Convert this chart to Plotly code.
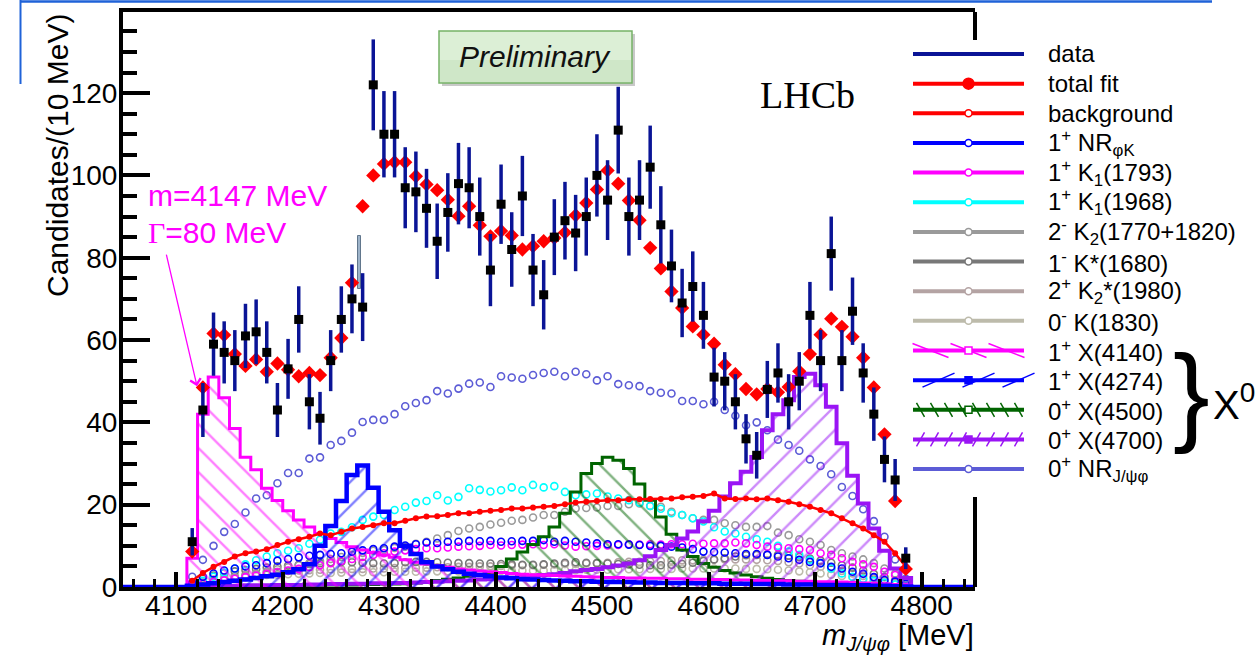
import numpy as np
import plotly.graph_objects as go

# ---------------- data ----------------
BIN_LO = 4110          # MeV, lower edge of the first bin
BIN_W = 10             # MeV per bin
X_MIN, X_MAX = 4050, 4850
Y_MAX = 139.7

data_counts = [11, 43, 59, 57, 55, 61, 62, 57, 43, 53,
               65, 45, 41, 55, 65, 70, 68, 122, 110, 110,
               97, 96, 92, 84, 91, 98, 97, 90, 77, 93,
               82, 95, 77, 71, 85, 89, 86, 90, 100, 94,
               111, 90, 94, 102, 88, 78, 69, 73, 66, 51,
               50, 45, 36, 32, 48, 52, 45, 50, 66, 55,
               81, 55, 67, 52, 42, 31, 26, 7]

total_fit = [8.6, 48.5, 61.6, 61.2, 56.6, 53.7, 55.3, 52.3, 54.3, 52.8,
             51.2, 52.0, 51.5, 55.7, 60.5, 73.9, 92.5, 100.0, 102.8, 103.2,
             103.2, 99.8, 97.8, 96.4, 94.1, 90.1, 92.5, 87.9, 85.2, 86.5,
             85.4, 82.0, 82.8, 84.0, 84.8, 86.1, 90.3, 93.3, 96.6, 101.2,
             98.0, 93.9, 89.1, 82.4, 77.4, 71.8, 67.8, 63.3, 61.3, 59.1,
             54.0, 51.7, 48.1, 46.8, 48.1, 47.3, 48.6, 52.4, 56.6, 61.3,
             65.2, 63.2, 60.8, 55.7, 48.5, 37.1, 20.9, 4.4]

background = [1.5, 3.4, 4.9, 6.1, 7.4, 8.2, 8.6, 9.2, 10.2, 11.0,
              11.6, 12.2, 13.0, 12.6, 13.4, 14.2, 14.6, 15.0, 15.5, 15.5,
              16.1, 16.7, 17.1, 17.2, 17.5, 17.9, 17.9, 18.3, 18.5, 18.7,
              19.1, 19.1, 19.3, 19.5, 19.7, 20.1, 20.5, 20.7, 20.9, 21.1,
              21.1, 21.3, 21.3, 21.4, 21.4, 21.5, 21.8, 21.9, 22.1, 22.7,
              21.5, 21.4, 21.5, 21.3, 21.5, 21.1, 20.7, 20.1, 19.5, 18.7,
              17.9, 16.7, 15.5, 14.2, 12.6, 11.0, 8.2, 4.9]

nr_phik = [1.0, 2.5, 3.3, 4.0, 4.5, 5.0, 5.3, 5.8, 6.4, 6.8,
           7.2, 7.6, 7.8, 8.0, 8.2, 8.6, 8.9, 9.2, 9.4, 9.8,
           10.1, 10.4, 10.8, 10.7, 11.0, 11.0, 11.2, 11.1, 11.2, 11.0,
           11.1, 11.2, 11.2, 11.4, 11.0, 11.2, 11.0, 10.8, 10.6, 10.4,
           10.4, 10.3, 10.2, 10.0, 10.0, 9.8, 9.6, 9.2, 8.6, 8.5,
           8.4, 8.2, 8.0, 8.0, 7.8, 7.4, 7.0, 6.6, 6.1, 5.8,
           4.9, 4.5, 3.7, 3.2, 2.4, 1.7, 1.3, 0.8]

k1_1793 = [0.3, 0.8, 1.2, 1.6, 2.0, 2.4, 2.8, 3.2, 3.6, 4.0,
           4.4, 4.8, 5.3, 5.8, 6.3, 6.8, 7.3, 7.8, 8.2, 8.6,
           8.9, 9.2, 9.4, 9.4, 9.6, 9.8, 9.9, 10.0, 10.2, 10.1,
           10.2, 10.3, 10.4, 10.2, 10.4, 10.1, 9.8, 9.9, 10.0, 10.1,
           10.2, 10.4, 10.3, 10.4, 10.3, 10.4, 10.4, 10.5, 10.5, 10.6,
           10.6, 10.8, 10.6, 10.2, 9.8, 9.6, 9.4, 9.2, 9.0, 8.2,
           7.8, 7.0, 6.1, 5.5, 4.9, 3.7, 2.9, 1.7]

k1_1968 = [0.5, 1.5, 2.5, 3.5, 4.5, 5.5, 6.5, 7.4, 8.2, 8.8,
           9.4, 10.5, 11.5, 13.0, 13.4, 14.5, 16.3, 17.1, 17.5, 18.7,
           19.5, 20.5, 20.9, 22.3, 21.0, 21.9, 24.0, 23.6, 23.2, 23.5,
           24.2, 23.5, 24.8, 24.2, 24.5, 23.1, 22.3, 22.5, 22.7, 22.0,
           21.5, 21.1, 20.5, 19.7, 19.0, 17.9, 17.5, 16.7, 15.9, 14.5,
           13.5, 13.0, 12.2, 11.6, 11.0, 10.0, 8.6, 7.8, 6.6, 5.8,
           4.5, 3.3, 2.5, 2.0, 1.5, 1.0, 0.6, 0.3]

k2_1770 = [0.3, 0.8, 1.3, 1.8, 2.3, 2.8, 3.3, 3.8, 4.3, 4.8,
           5.3, 5.8, 6.3, 6.8, 7.3, 7.8, 8.3, 8.8, 9.0, 9.5,
           9.8, 10.5, 11.0, 11.8, 12.6, 13.6, 14.2, 14.6, 15.2, 15.6,
           16.1, 16.3, 16.9, 17.5, 17.5, 18.3, 19.1, 19.2, 19.3, 19.7,
           19.7, 20.1, 20.3, 19.7, 19.5, 18.3, 17.5, 16.7, 16.3, 16.3,
           15.5, 15.0, 14.6, 14.6, 14.8, 13.2, 12.6, 11.6, 11.0, 10.2,
           9.0, 8.2, 7.4, 6.7, 5.8, 4.5, 3.3, 1.7]

kstar_1680 = [1.0, 2.0, 2.8, 3.4, 3.8, 4.1, 4.4, 4.7, 5.0, 5.2,
              5.4, 5.6, 5.8, 6.0, 6.1, 6.0, 5.9, 5.8, 5.7, 5.8,
              6.0, 6.1, 6.1, 6.0, 5.9, 5.8, 5.8, 5.7, 5.7, 5.6,
              5.5, 5.4, 5.4, 5.5, 5.7, 5.9, 6.0, 5.9, 5.8, 5.7,
              5.6, 5.5, 5.4, 5.3, 5.3, 5.4, 5.6, 5.9, 6.3, 6.7,
              7.0, 7.4, 7.7, 7.8, 7.9, 7.8, 7.6, 7.3, 6.9, 6.4,
              5.9, 5.3, 4.7, 4.0, 3.2, 2.4, 1.6, 0.8]

k2star_1980 = [0.5, 1.2, 1.8, 2.3, 2.7, 3.0, 3.3, 3.5, 3.7, 3.9,
               4.0, 4.1, 4.2, 4.3, 4.3, 4.4, 4.4, 4.5, 4.5, 4.6,
               4.6, 4.7, 4.7, 4.8, 4.8, 4.9, 4.9, 5.0, 5.0, 5.1,
               5.2, 5.3, 5.3, 5.4, 5.5, 5.6, 5.6, 5.7, 5.8, 5.9,
               6.0, 6.1, 6.1, 6.2, 6.3, 6.4, 6.5, 6.5, 6.6, 6.6,
               6.7, 6.7, 6.7, 6.6, 6.5, 6.3, 6.0, 5.7, 5.3, 4.9,
               4.4, 3.9, 3.3, 2.7, 2.1, 1.5, 0.9, 0.4]

k_1830 = [0.4, 1.0, 1.5, 1.9, 2.2, 2.5, 2.7, 2.9, 3.0, 3.1,
          3.2, 3.3, 3.4, 3.4, 3.5, 3.5, 3.6, 3.6, 3.6, 3.7,
          3.7, 3.7, 3.8, 3.8, 3.8, 3.8, 3.9, 3.9, 3.9, 3.9,
          4.0, 4.0, 4.0, 4.0, 4.1, 4.1, 4.1, 4.2, 4.2, 4.2,
          4.3, 4.3, 4.3, 4.4, 4.4, 4.4, 4.5, 4.5, 4.5, 4.5,
          4.5, 4.5, 4.4, 4.4, 4.3, 4.2, 4.0, 3.8, 3.6, 3.3,
          3.0, 2.7, 2.3, 1.9, 1.5, 1.1, 0.7, 0.3]

nr_jpsiphi = [2.5, 6.6, 10.0, 13.4, 15.3, 18.1, 21.5, 22.3, 25.2, 27.7,
              27.7, 31.2, 31.5, 34.5, 35.5, 37.5, 40.1, 40.6, 40.6, 42.0,
              43.9, 44.7, 45.4, 47.6, 47.0, 48.2, 49.4, 49.7, 48.6, 51.2,
              50.9, 50.6, 51.5, 52.0, 52.3, 51.2, 52.3, 51.7, 50.2, 51.2,
              49.3, 49.0, 48.8, 47.6, 47.2, 47.0, 45.2, 45.2, 44.4, 45.0,
              43.0, 41.6, 39.3, 40.0, 38.1, 35.8, 34.5, 33.1, 31.0, 29.4,
              27.4, 24.3, 22.1, 18.9, 16.0, 12.2, 6.7, 2.0]

x4140 = [7.0, 42.0, 51.0, 46.0, 38.5, 31.5, 28.5, 24.0, 21.0, 18.5,
         16.3, 14.6, 13.0, 11.8, 10.8, 9.8, 9.0, 8.4, 7.8, 7.2,
         6.6, 6.0, 5.6, 5.2, 4.8, 4.4, 4.1, 3.9, 3.7, 3.5,
         3.3, 3.1, 3.0, 2.9, 2.8, 2.7, 2.6, 2.5, 2.4, 2.3,
         2.3, 2.2, 2.2, 2.1, 2.1, 2.0, 2.0, 1.9, 1.9, 1.8,
         1.8, 1.7, 1.7, 1.6, 1.6, 1.5, 1.5, 1.4, 1.4, 1.3,
         1.3, 1.2, 1.1, 1.0, 0.9, 0.8, 0.6, 0.4]

x4274 = [0.3, 0.6, 0.9, 1.2, 1.5, 1.8, 2.2, 2.6, 3.0, 3.6,
         4.3, 5.5, 10.0, 14.8, 20.9, 27.2, 29.5, 24.1, 18.3, 13.8,
         10.0, 8.0, 6.0, 5.0, 4.3, 3.7, 3.2, 2.9, 2.6, 2.3,
         2.1, 1.9, 1.8, 1.7, 1.6, 1.5, 1.4, 1.4, 1.3, 1.3,
         1.2, 1.2, 1.1, 1.1, 1.0, 1.0, 1.0, 0.9, 0.9, 0.9,
         0.8, 0.8, 0.8, 0.7, 0.7, 0.7, 0.6, 0.6, 0.6, 0.5,
         0.5, 0.5, 0.4, 0.4, 0.3, 0.3, 0.2, 0.1]

x4500 = [0.1, 0.1, 0.1, 0.2, 0.2, 0.2, 0.2, 0.3, 0.3, 0.3,
         0.4, 0.4, 0.4, 0.5, 0.5, 0.5, 0.6, 0.6, 0.7, 0.7,
         0.8, 1.0, 1.3, 1.6, 1.9, 2.2, 2.6, 3.0, 3.5, 5.0,
         6.8, 8.5, 10.3, 12.2, 14.6, 17.9, 23.1, 27.6, 30.0, 31.5,
         30.8, 28.8, 25.0, 21.1, 17.0, 12.8, 9.0, 7.4, 5.7, 4.8,
         4.0, 3.4, 2.9, 2.5, 2.1, 1.8, 1.6, 1.4, 1.2, 1.0,
         0.9, 0.8, 0.7, 0.6, 0.5, 0.4, 0.3, 0.2]

x4700 = [0.2, 0.2, 0.3, 0.3, 0.3, 0.4, 0.4, 0.4, 0.5, 0.5,
         0.5, 0.6, 0.6, 0.7, 0.7, 0.8, 0.8, 0.9, 0.9, 1.0,
         1.0, 1.1, 1.2, 1.3, 1.4, 1.5, 1.6, 1.8, 1.9, 2.1,
         2.3, 2.5, 2.7, 2.9, 3.1, 3.4, 3.8, 4.1, 4.4, 4.8,
         5.2, 5.7, 6.5, 7.5, 9.0, 10.2, 11.8, 13.5, 16.0, 18.5,
         22.0, 25.2, 28.0, 31.6, 38.1, 42.0, 45.4, 51.0, 51.8, 49.0,
         43.8, 34.9, 27.0, 20.3, 14.2, 8.8, 4.5, 2.2]

# a stray grey bar visible in the reference near 4272 MeV
stray_x = [4272]
stray_lo = [72.3]
stray_hi = [85.4]

# ---------------- figure geometry ----------------
W, H = 1257, 655
ML, MR, MT, MB = 123, 282, 12, 68
PW, PH = W - ML - MR, H - MT - MB


def px(x):
    return (x - ML) / PW


def py(y):
    return (H - MB - y) / PH


n_bins = len(data_counts)
centers = BIN_LO + BIN_W * (np.arange(n_bins) + 0.5)
edges = BIN_LO + BIN_W * np.arange(n_bins + 1)

FONT = "Liberation Sans, Arial, Helvetica, sans-serif"
SERIF = "Liberation Serif, Times New Roman, serif"

C_DATA = "#0a1496"
C_RED = "#ff0000"
C_BLUE = "#0000ff"
C_MAG = "#ff00ff"
C_CYAN = "#00ffff"
C_GREY2 = "#9a9a9a"
C_GREY1 = "#787878"
C_TAUPE = "#b4a3a3"
C_BEIGE = "#bdbbab"
C_GREEN = "#006400"
C_PURPLE = "#9a14f5"
C_SLATE = "#5c5cd6"

fig = go.Figure()

# component curves (open circles)
curves = [
    (k2star_1980, C_TAUPE),
    (k_1830, C_BEIGE),
    (kstar_1680, C_GREY1),
    (k2_1770, C_GREY2),
    (k1_1968, C_CYAN),
    (k1_1793, C_MAG),
    (nr_phik, C_BLUE),
    (nr_jpsiphi, C_SLATE),
]
for vals, col in curves:
    fig.add_trace(go.Scatter(
        x=centers, y=vals, mode="markers", showlegend=False,
        marker=dict(symbol="circle-open", size=7, color=col, line=dict(width=1.6, color=col)),
        hoverinfo="skip"))


def hist_trace(vals, col, pattern, lw):
    xs = [X_MIN] + list(edges[:-1]) + [edges[-1], X_MAX]
    ys = [0.0] + list(vals) + [0.0, 0.0]
    return go.Scatter(
        x=xs, y=ys, mode="lines", line=dict(shape="hv", color=col, width=lw),
        fill="tozeroy", fillcolor="rgba(0,0,0,0)",
        fillpattern=dict(shape=pattern, fgcolor=col, bgcolor="rgba(0,0,0,0)",
                         size=17, solidity=0.14),
        showlegend=False, hoverinfo="skip")


fig.add_trace(hist_trace(x4500, C_GREEN, "\\", 3))
fig.add_trace(hist_trace(x4700, C_PURPLE, "/", 4))
fig.add_trace(hist_trace(x4140, C_MAG, "\\", 3))
fig.add_trace(hist_trace(x4274, C_BLUE, "/", 4.5))

# background
fig.add_trace(go.Scatter(
    x=centers, y=background, mode="lines+markers", showlegend=False,
    line=dict(color=C_RED, width=2.5),
    marker=dict(symbol="circle", size=6, color=C_RED), hoverinfo="skip"))

# stray bar
fig.add_trace(go.Bar(
    x=stray_x, y=[h - l for h, l in zip(stray_hi, stray_lo)], base=stray_lo, width=[3.5],
    marker=dict(color="#9db3c9", line=dict(color="#61768c", width=1)),
    showlegend=False, hoverinfo="skip"))

# total fit
fig.add_trace(go.Scatter(
    x=centers, y=total_fit, mode="markers", showlegend=False,
    marker=dict(symbol="diamond", size=11, color=C_RED), hoverinfo="skip"))

# data
fig.add_trace(go.Scatter(
    x=centers, y=data_counts, mode="markers", showlegend=False,
    error_y=dict(type="data", array=np.sqrt(np.array(data_counts, dtype=float)),
                 color=C_DATA, thickness=3.5, width=0),
    marker=dict(symbol="square", size=9, color="black"), hoverinfo="skip"))

shapes = []
annotations = []

# right frame segments (legend box covers the middle part)
for ya, yb in [(12, 40), (497, 587)]:
    shapes.append(dict(type="line", xref="paper", yref="paper", x0=1, x1=1,
                       y0=py(ya), y1=py(yb), line=dict(color="black", width=4), layer="above"))

# slide decoration lines
shapes.append(dict(type="line", xref="paper", yref="paper", x0=px(20), x1=px(1212),
                   y0=py(1.5), y1=py(1.5), line=dict(color="#1f62d8", width=2.5)))
shapes.append(dict(type="line", xref="paper", yref="paper", x0=px(20.5), x1=px(20.5),
                   y0=py(0), y1=py(84), line=dict(color="#1f62d8", width=2)))

# Preliminary box
shapes.append(dict(type="rect", xref="paper", yref="paper", x0=px(442), x1=px(635),
                   y0=py(86), y1=py(34), fillcolor="#c9c9c9", line=dict(width=0), layer="above"))
shapes.append(dict(type="rect", xref="paper", yref="paper", x0=px(439), x1=px(632),
                   y0=py(83), y1=py(31), fillcolor="#dcefd6", line=dict(color="#76b267", width=1.5),
                   layer="above"))
shapes.append(dict(type="rect", xref="paper", yref="paper", x0=px(440), x1=px(631),
                   y0=py(82), y1=py(60), fillcolor="#cfe7c8", line=dict(width=0), layer="above"))
annotations.append(dict(x=px(535), y=py(57), xref="paper", yref="paper", showarrow=False,
                        text="<i>Preliminary</i>", font=dict(family=FONT, size=30, color="#111111"),
                        xanchor="center", yanchor="middle"))

# LHCb
annotations.append(dict(x=px(807), y=py(95), xref="paper", yref="paper", showarrow=False,
                        text="LHCb", font=dict(family=SERIF, size=38, color="black"),
                        xanchor="center", yanchor="middle"))

# magenta annotation
annotations.append(dict(x=px(146), y=py(195), xref="paper", yref="paper", showarrow=False,
                        text="m=4147 MeV", font=dict(family=FONT, size=30, color=C_MAG),
                        xanchor="left", yanchor="middle"))
annotations.append(dict(x=px(146), y=py(232), xref="paper", yref="paper", showarrow=False,
                        text="<span style='font-family:Liberation Serif'>Γ</span>=80 MeV",
                        font=dict(family=FONT, size=30, color=C_MAG),
                        xanchor="left", yanchor="middle"))
annotations.append(dict(x=4119.5, y=48.8, xref="x", yref="y", ax=-31, ay=-133,
                        text="", showarrow=True, arrowhead=4, arrowsize=1.6, arrowwidth=1.3,
                        arrowcolor=C_MAG))

# axis titles
annotations.append(dict(x=px(57), y=py(156), xref="paper", yref="paper", showarrow=False,
                        text="Candidates/(10 MeV)", textangle=-90,
                        font=dict(family=FONT, size=30, color="black"),
                        xanchor="center", yanchor="middle"))
annotations.append(dict(x=1.0, y=py(637), xref="paper", yref="paper", showarrow=False,
                        text="<i>m</i><sub><i>J/ψφ</i></sub> [MeV]",
                        font=dict(family=FONT, size=29, color="black"),
                        xanchor="right", yanchor="middle", borderpad=0))

# ---------------- manual legend ----------------
legend_items = [
    ("data", C_DATA, None, None),
    ("total fit", C_RED, ("circle", 5.5, C_RED, C_RED), None),
    ("background", C_RED, ("circle", 3.5, "white", C_RED), None),
    ("1<sup>+</sup> NR<sub>φK</sub>", C_BLUE, ("circle", 3.5, "white", C_BLUE), None),
    ("1<sup>+</sup> K<sub>1</sub>(1793)", C_MAG, ("circle", 3.5, "white", C_MAG), None),
    ("1<sup>+</sup> K<sub>1</sub>(1968)", C_CYAN, ("circle", 3.5, "white", C_CYAN), None),
    ("2<sup>-</sup> K<sub>2</sub>(1770+1820)", C_GREY2, ("circle", 3.5, "white", C_GREY2), None),
    ("1<sup>-</sup> K*(1680)", C_GREY1, ("circle", 3.5, "white", C_GREY1), None),
    ("2<sup>+</sup> K<sub>2</sub>*(1980)", C_TAUPE, ("circle", 3.5, "white", C_TAUPE), None),
    ("0<sup>-</sup> K(1830)", C_BEIGE, ("circle", 3.5, "white", C_BEIGE), None),
    ("1<sup>+</sup> X(4140)", C_MAG, ("rect", 3.5, "white", C_MAG), "shallow_back"),
    ("1<sup>+</sup> X(4274)", C_BLUE, ("rect", 3.5, C_BLUE, C_BLUE), "shallow_fwd"),
    ("0<sup>+</sup> X(4500)", C_GREEN, ("rect", 3.5, "white", C_GREEN), "steep_back"),
    ("0<sup>+</sup> X(4700)", C_PURPLE, ("rect", 3.5, C_PURPLE, C_PURPLE), "steep_fwd"),
    ("0<sup>+</sup> NR<sub>J/ψφ</sub>", C_SLATE, ("circle", 3.5, "white", C_SLATE), None),
]
LEG_X0, LEG_X1, LEG_TX = 913, 1024, 1046
LEG_Y0, LEG_DY = 54, 29.65
LEG_CX = (LEG_X0 + LEG_X1) / 2

hatch_defs = {
    "shallow_back": ([-38, 0, 38], 18, 7),
    "shallow_fwd": ([-30, 10, 50], 16, -7),
    "steep_back": ([-48, -34, -20, -6, 8, 22, 36, 50], 4, 7),
    "steep_fwd": ([-48, -34, -20, -6, 8, 22, 36, 50], 4, -7),
}

for i, (label, col, mk, hatch) in enumerate(legend_items):
    yy = LEG_Y0 + i * LEG_DY
    shapes.append(dict(type="line", xref="paper", yref="paper", x0=px(LEG_X0), x1=px(LEG_X1),
                       y0=py(yy), y1=py(yy), line=dict(color=col, width=4), layer="above"))
    if hatch:
        offs, dx, dy = hatch_defs[hatch]
        for o in offs:
            shapes.append(dict(type="line", xref="paper", yref="paper",
                               xsizemode="pixel", ysizemode="pixel",
                               xanchor=px(LEG_CX + o), yanchor=py(yy),
                               x0=-dx, x1=dx, y0=dy, y1=-dy,
                               line=dict(color=col, width=1.5), layer="above"))
    if mk:
        kind, r, fillc, linec = mk
        shapes.append(dict(type=kind, xref="paper", yref="paper",
                           xsizemode="pixel", ysizemode="pixel",
                           xanchor=px(LEG_CX), yanchor=py(yy),
                           x0=-r, x1=r, y0=-r, y1=r,
                           fillcolor=fillc, line=dict(color=linec, width=1.5), layer="above"))
    annotations.append(dict(x=px(LEG_TX), y=py(yy), xref="paper", yref="paper", showarrow=False,
                            text=label, font=dict(family=FONT, size=24, color="black"),
                            xanchor="left", yanchor="middle"))

# brace and X0
annotations.append(dict(x=px(1212), y=py(392), xref="paper", yref="paper", showarrow=False,
                        text="}", font=dict(family=FONT, size=110, color="black"),
                        xanchor="right", yanchor="middle"))
annotations.append(dict(x=px(1257), y=py(402), xref="paper", yref="paper", showarrow=False,
                        text="X<sup>0</sup>", font=dict(family=FONT, size=40, color="black"),
                        xanchor="right", yanchor="middle"))

fig.update_layout(
    width=W, height=H,
    margin=dict(l=ML, r=MR, t=MT, b=MB, autoexpand=False),
    paper_bgcolor="white", plot_bgcolor="white",
    showlegend=False,
    font=dict(family=FONT, size=28, color="black"),
    shapes=shapes, annotations=annotations,
    bargap=0,
)
fig.update_xaxes(
    range=[X_MIN, X_MAX], showgrid=False, zeroline=False,
    showline=True, linewidth=4, linecolor="black", mirror=True,
    ticks="inside", ticklen=15, tickwidth=3.5, tickcolor="black",
    tick0=4100, dtick=100, tickfont=dict(size=28, family=FONT),
    ticklabelstandoff=-10,
    minor=dict(ticks="inside", ticklen=8, tickwidth=3, tickcolor="black", dtick=20, showgrid=False),
)
fig.update_yaxes(
    range=[0, Y_MAX], showgrid=False, zeroline=False,
    showline=True, linewidth=4, linecolor="black", mirror=False,
    ticks="inside", ticklen=27, tickwidth=4, tickcolor="black",
    tick0=0, dtick=20, tickfont=dict(size=28, family=FONT),
    ticklabelstandoff=-4,
    minor=dict(ticks="inside", ticklen=14, tickwidth=3.5, tickcolor="black", dtick=5, showgrid=False),
)

fig.write_html("out.html", config={"displayModeBar": False},
               post_script="document.body.style.margin='0px';document.body.style.overflow='hidden';")
